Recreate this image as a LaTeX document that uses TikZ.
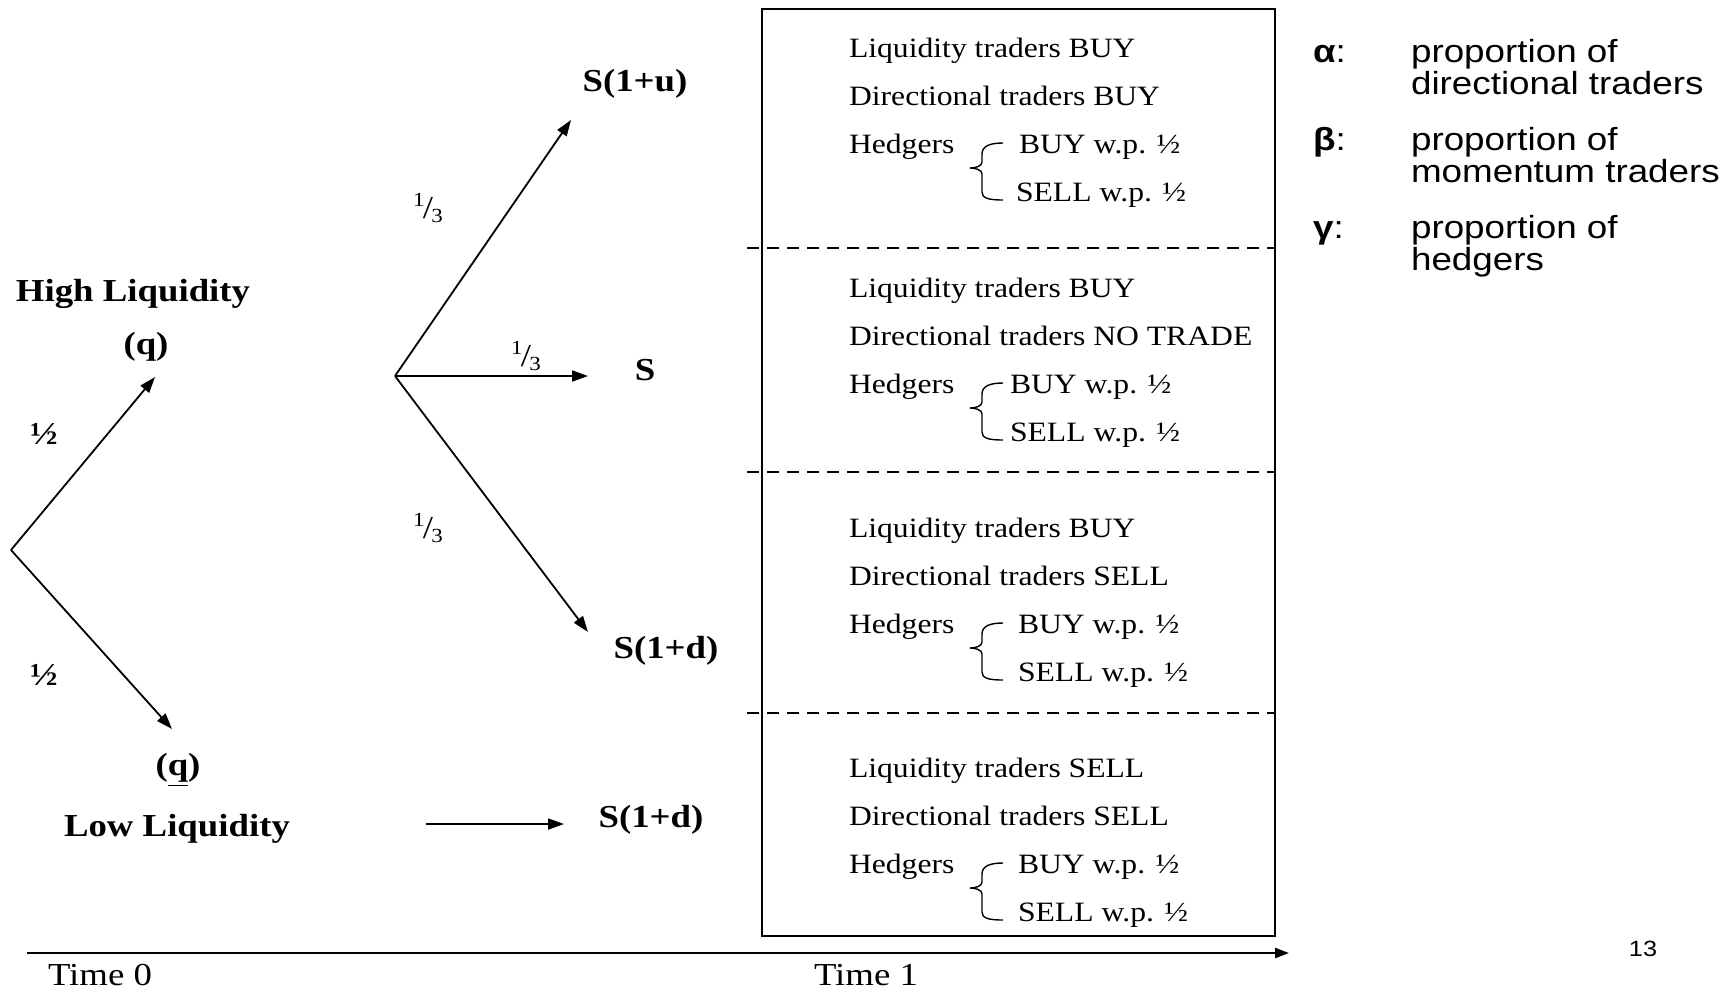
\documentclass[tikz,border=0pt]{standalone}
\usepackage{fontspec}
\setmainfont{Liberation Serif}
\newfontfamily\arialfont{Liberation Sans}
\usetikzlibrary{arrows.meta}
\newcommand{\onethird}{\raisebox{0.38em}{\fontsize{10}{10}\selectfont 1}\kern-0.05em/\kern-0.05em\raisebox{-0.12em}{\fontsize{10}{10}\selectfont 3}}
\tikzset{
  lab/.style={inner sep=0pt,xscale=1.15,font=\fontsize{16}{19}\selectfont\bfseries},
  prob/.style={inner sep=0pt,xscale=1.15,font=\fontsize{16}{19}\selectfont},
  txt/.style={inner sep=0pt,xscale=1.13,anchor=base west,font=\fontsize{14}{17}\selectfont},
  leg/.style={inner sep=0pt,xscale=1.15,anchor=base west,font=\arialfont\fontsize{16}{16}\selectfont},
  arr/.style={-{Triangle[length=8pt,width=5.5pt]},line width=0.9pt},
  axis/.style={-{Triangle[length=7pt,width=5pt]},line width=1.2pt},
  sepline/.style={dash pattern=on 6pt off 4pt,line width=0.9pt},
  hbrace/.pic={\draw[line width=0.7pt] (33,-25) .. controls (20,-25) and (12,-22) .. (12,-14) -- (12,-6)
     .. controls (12,-2) and (6,0) .. (0,0) .. controls (6,0) and (12,2) .. (12,6) -- (12,24)
     .. controls (12,30) and (18,32) .. (33,32);}
}
\begin{document}
\begin{tikzpicture}[x=0.5pt,y=-0.5pt,line width=0.9pt]
\useasboundingbox (0,0) rectangle (1735,992);
% time 0: liquidity state
\coordinate (r0) at (11,550);
\coordinate (t0hi) at (155,377);
\coordinate (t0lo) at (172,729);
\node[lab,anchor=base] (hl) at (133,301) {High Liquidity};
\node[lab] (hq) at (146,347) {(q)};
\node[lab] (lq) at (178,770) {(\underline{q})};
\node[lab,anchor=base] (ll) at (177,836) {Low Liquidity};
\node[lab] (p0hi) at (44,434) {½};
\node[lab] (p0lo) at (44,675) {½};
\draw[arr] (r0) -- (t0hi);
\draw[arr] (r0) -- (t0lo);
% time 1: price moves
\coordinate (r1) at (395,376);
\coordinate (t1u) at (571,120);
\coordinate (t1m) at (588,376);
\coordinate (t1d) at (588,632);
\node[lab] (su) at (635,84) {S(1+u)};
\node[lab] (sm) at (645,370) {S};
\node[lab] (sd) at (666,651) {S(1+d)};
\node[prob] (pu) at (428,208) {\onethird};
\node[prob] (pm) at (526,356) {\onethird};
\node[prob] (pd) at (428,528) {\onethird};
\draw[arr] (r1) -- (t1u);
\draw[arr] (r1) -- (t1m);
\draw[arr] (r1) -- (t1d);
\coordinate (l0) at (426,824);
\coordinate (l1) at (564,824);
\node[lab] (sl) at (651,820) {S(1+d)};
\draw[arr] (l0) -- (l1);
% order flow box
\draw (762,9) rectangle (1275,936);
\draw[sepline] (747,248) -- (1275,248);
\draw[sepline] (747,472) -- (1275,472);
\draw[sepline] (747,713) -- (1275,713);
\node[txt] (b1l) at (848,57) {Liquidity traders BUY};
\node[txt] (b1d) at (848,105) {Directional traders BUY};
\node[txt] (b1h) at (848,153) {Hedgers};
\node[txt] (b1b) at (1018,153) {BUY w.p. ½};
\node[txt] (b1s) at (1015,201) {SELL w.p. ½};
\pic at (970,168) {hbrace};
\node[txt] (b2l) at (848,297) {Liquidity traders BUY};
\node[txt] (b2d) at (848,345) {Directional traders NO TRADE};
\node[txt] (b2h) at (848,393) {Hedgers};
\node[txt] (b2b) at (1009,393) {BUY w.p. ½};
\node[txt] (b2s) at (1009,441) {SELL w.p. ½};
\pic at (970,408) {hbrace};
\node[txt] (b3l) at (848,537) {Liquidity traders BUY};
\node[txt] (b3d) at (848,585) {Directional traders SELL};
\node[txt] (b3h) at (848,633) {Hedgers};
\node[txt] (b3b) at (1017,633) {BUY w.p. ½};
\node[txt] (b3s) at (1017,681) {SELL w.p. ½};
\pic at (970,648) {hbrace};
\node[txt] (b4l) at (848,777) {Liquidity traders SELL};
\node[txt] (b4d) at (848,825) {Directional traders SELL};
\node[txt] (b4h) at (848,873) {Hedgers};
\node[txt] (b4b) at (1017,873) {BUY w.p. ½};
\node[txt] (b4s) at (1017,921) {SELL w.p. ½};
\pic at (970,888) {hbrace};
% legend
\node[leg] (ga) at (1312,62) {\textbf{α}:};
\node[leg] (ga1) at (1410,62) {proportion of};
\node[leg] (ga2) at (1410,94) {directional traders};
\node[leg] (gb) at (1312,150) {\textbf{β}:};
\node[leg] (gb1) at (1410,150) {proportion of};
\node[leg] (gb2) at (1410,182) {momentum traders};
\node[leg] (gc) at (1312,238) {\textbf{γ}:};
\node[leg] (gc1) at (1410,238) {proportion of};
\node[leg] (gc2) at (1410,270) {hedgers};
% time axis
\coordinate (a0) at (27,953);
\coordinate (a1) at (1289,953);
\draw[axis] (a0) -- (a1);
\node[prob,anchor=base] (tz) at (100,985) {Time 0};
\node[prob,anchor=base] (to) at (866,985) {Time 1};
\node[inner sep=0pt,xscale=1.15,font=\arialfont\fontsize{11}{11}\selectfont] (pg) at (1643,949) {13};
\end{tikzpicture}
\end{document}
